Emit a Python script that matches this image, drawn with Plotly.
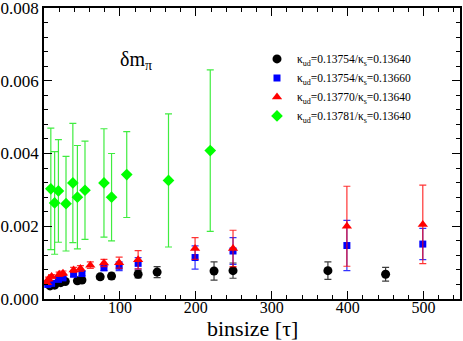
import plotly.graph_objects as go

# ---- data ----
black_x = [8, 14, 22, 28, 44, 50, 74, 89, 124, 149, 224, 249, 374, 450]
black_y = [0.00036, 0.00038, 0.00045, 0.00048, 0.00050, 0.00052, 0.00061, 0.00063,
           0.00068, 0.00074, 0.00077, 0.00078, 0.00078, 0.00068]
black_e = [0.00004, 0.00004, 0.00005, 0.00005, 0.00006, 0.00006, 0.00007, 0.00008,
           0.00010, 0.00015, 0.00025, 0.00021, 0.00024, 0.00019]

blue_x = [5, 10, 19, 25, 39, 50, 79, 99, 124, 199, 249, 399, 499]
blue_y = [0.00040, 0.00043, 0.00054, 0.00058, 0.00068, 0.00070, 0.00086, 0.00090,
          0.00098, 0.00114, 0.00132, 0.00147, 0.00151]
blue_e = [0.00003, 0.00004, 0.00005, 0.00005, 0.00006, 0.00006, 0.00008, 0.00012,
          0.00016, 0.00032, 0.00037, 0.00069, 0.00043]

red_x = [4, 6, 10, 20, 25, 39, 48, 61, 79, 99, 124, 199, 249, 399, 499]
red_y = [0.00045, 0.00055, 0.00062, 0.00068, 0.00071, 0.00080, 0.00084, 0.00093,
         0.00099, 0.00100, 0.00108, 0.00139, 0.00139, 0.00200, 0.00205]
red_e = [0.00004, 0.00005, 0.00005, 0.00006, 0.00006, 0.00007, 0.00008, 0.00009,
         0.00010, 0.00015, 0.00025, 0.00030, 0.00050, 0.00110, 0.00108]

green_x = [9, 14, 19, 29, 38, 44, 54, 79, 89, 109, 164, 219]
green_y = [0.00303, 0.00264, 0.00297, 0.00262, 0.00319, 0.00280, 0.00299, 0.00319,
           0.00280, 0.00342, 0.00326, 0.00408]
green_e = [0.00167, 0.00141, 0.00141, 0.00130, 0.00164, 0.00142, 0.00135, 0.00149,
           0.00120, 0.00118, 0.00183, 0.00222]

names = ["κ<sub>ud</sub>=0.13754/κ<sub>s</sub>=0.13640",
         "κ<sub>ud</sub>=0.13754/κ<sub>s</sub>=0.13660",
         "κ<sub>ud</sub>=0.13770/κ<sub>s</sub>=0.13640",
         "κ<sub>ud</sub>=0.13781/κ<sub>s</sub>=0.13640"]

x_ticks = [100, 200, 300, 400, 500]
y_ticks = [0.000, 0.002, 0.004, 0.006, 0.008]
y_ticktext = ["0.000", "0.002", "0.004", "0.006", "0.008"]

FONT = "Liberation Serif"

fig = go.Figure()

series = [
    (black_x, black_y, black_e, names[0], "black", "circle", 9, "rgba(40,40,40,0.9)"),
    (blue_x, blue_y, blue_e, names[1], "#0000ff", "square", 7, "rgba(0,0,255,0.8)"),
    (red_x, red_y, red_e, names[2], "#ff0000", "triangle-up", 9, "rgba(255,0,0,0.8)"),
    (green_x, green_y, green_e, names[3], "#00ff00", "diamond", 9, "rgba(0,230,0,0.75)"),
]
for xs, ys, es, nm, col, sym, sz, ecol in series:
    fig.add_trace(go.Scatter(
        x=xs, y=ys, mode="markers", name=nm,
        marker=dict(color=col, symbol=sym, size=sz, line=dict(width=0)),
        error_y=dict(type="data", array=es, visible=True, color=ecol,
                     thickness=1.2, width=3.5),
    ))

fig.add_annotation(x=97, y=0.00655, xref="x", yref="y", text="δm<sub>π</sub>",
                   showarrow=False, font=dict(family=FONT, size=20, color="black"),
                   xanchor="left", yanchor="middle")

fig.add_annotation(x=0.502, y=-0.102, xref="paper", yref="paper", text="binsize [τ]",
                   showarrow=False, font=dict(family=FONT, size=22, color="black"),
                   xanchor="center", yanchor="middle")

fig.update_layout(
    width=463, height=341,
    margin=dict(l=44, r=3, t=8, b=42, autoexpand=False),
    paper_bgcolor="white", plot_bgcolor="white",
    font=dict(family=FONT, color="black"),
    showlegend=True,
    legend=dict(x=0.512, y=0.875, xanchor="left", yanchor="top",
                bgcolor="rgba(0,0,0,0)", borderwidth=0,
                font=dict(family=FONT, size=11.5, color="black"),
                tracegroupgap=0),
    xaxis=dict(
        range=[0, 548], tickvals=x_ticks, ticks="inside", ticklen=8,
        tickwidth=1, tickcolor="black", automargin=False,
        minor=dict(ticks="inside", ticklen=4, dtick=20, tick0=0, tickcolor="black"),
        showline=True, linecolor="black", linewidth=1.5, mirror="allticks",
        showgrid=False, zeroline=False, ticklabeloverflow="allow",
        ticklabelstandoff=-7,
        tickfont=dict(family=FONT, size=16, color="black"),
    ),
    yaxis=dict(
        range=[0, 0.0080001], tickvals=y_ticks, ticktext=y_ticktext, ticks="inside",
        ticklen=8, tickwidth=1, tickcolor="black", automargin=False,
        minor=dict(ticks="inside", ticklen=4, dtick=0.0004, tick0=0, tickcolor="black"),
        showline=True, linecolor="black", linewidth=1.5, mirror="allticks",
        showgrid=False, zeroline=False, ticklabeloverflow="allow",
        tickfont=dict(family=FONT, size=17, color="black"),
    ),
)

fig.write_html("out.html", config={"displayModeBar": False},
               post_script="document.body.style.margin='0';document.body.style.overflow='hidden';")
